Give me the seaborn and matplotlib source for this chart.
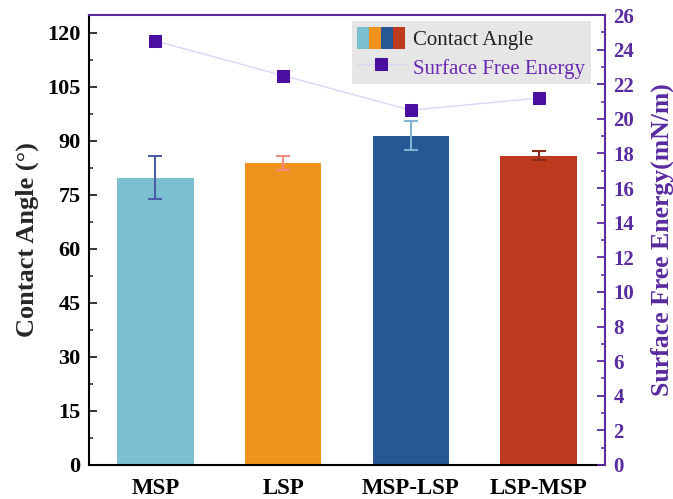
import numpy as np
import pandas as pd
import matplotlib
matplotlib.use("Agg")
import matplotlib.pyplot as plt
from matplotlib.patches import Rectangle
from matplotlib.legend_handler import HandlerTuple
from matplotlib.ticker import MultipleLocator
import seaborn as sns

# Data
samples = ["MSP", "LSP", "MSP-LSP", "LSP-MSP"]
contact_angle = [79.8, 83.8, 91.5, 85.9]
contact_angle_err = [6.0, 1.9, 4.0, 1.2]
surface_energy = [24.5, 22.5, 20.5, 21.2]

bar_colors = ["#7bbfd0", "#f0931e", "#275893", "#be3a1f"]
err_colors = ["#4a5ea8", "#f58a80", "#7fb4d4", "#8a2a18"]
purple = "#4b0fa0"
axis_purple = "#5a2aa0"

sns.set_theme(style="white")
plt.rcParams["font.family"] = ["Liberation Serif", "DejaVu Serif"]
plt.rcParams["font.weight"] = "bold"

df = pd.DataFrame({"sample": samples, "angle": contact_angle})

fig = plt.figure(figsize=(6.73, 4.99), dpi=100)
ax = fig.add_axes([89 / 673, 1 - 465 / 499, (605 - 89) / 673, (465 - 15) / 499])

sns.barplot(data=df, x="sample", y="angle", hue="sample", palette=bar_colors,
            width=0.6, legend=False, ax=ax, edgecolor="none", saturation=1)

for i, (v, e) in enumerate(zip(contact_angle, contact_angle_err)):
    ax.errorbar(i, v, yerr=e, color=err_colors[i], capsize=5, capthick=1.5,
                elinewidth=1.5, zorder=5)

ax.set_xlim(-0.52, 3.52)
ax.set_ylim(0, 125)
ax.yaxis.set_major_locator(MultipleLocator(15))
ax.yaxis.set_minor_locator(MultipleLocator(7.5))
ax.set_xlabel("")
ax.set_ylabel("Contact Angle (°)", fontsize=19, fontweight="bold", labelpad=6)
ax.tick_params(axis="y", which="major", direction="in", length=6, width=1.3,
               labelsize=16, left=True, pad=6)
ax.tick_params(axis="y", which="minor", direction="in", length=3, width=1.1, left=True)
ax.tick_params(axis="x", length=0, labelsize=16.5, pad=9)
for lbl in ax.get_xticklabels() + ax.get_yticklabels():
    lbl.set_fontweight("bold")
    lbl.set_color("black")

for side in ["left", "bottom"]:
    ax.spines[side].set_color("black")
    ax.spines[side].set_linewidth(1.5)
ax.spines["top"].set_color(axis_purple)
ax.spines["top"].set_linewidth(1.5)
ax.spines["right"].set_visible(False)

# Surface free energy on secondary axis
ax2 = ax.twinx()
sfe_df = pd.DataFrame({"pos": np.arange(len(samples)), "sfe": surface_energy})
sns.lineplot(data=sfe_df, x="pos", y="sfe", ax=ax2, color="#d8d6f6", linewidth=1.0,
             marker="s", markersize=8, markerfacecolor=purple, markeredgecolor=purple,
             label="Surface Free Energy", legend=False)
ax2.set_ylim(0, 26)
ax2.yaxis.set_major_locator(MultipleLocator(2))
ax2.yaxis.set_minor_locator(MultipleLocator(1))
ax2.set_ylabel("Surface Free Energy(mN/m)", fontsize=18.5, fontweight="bold",
               color=axis_purple, labelpad=12)
ax2.tick_params(axis="y", which="major", direction="in", length=6, width=1.3,
                labelsize=15, colors=axis_purple, right=True, pad=6)
ax2.tick_params(axis="y", which="minor", direction="in", length=3, width=1.1,
                colors=axis_purple, right=True)
for lbl in ax2.get_yticklabels():
    lbl.set_fontweight("bold")
for side in ["left", "bottom", "top"]:
    ax2.spines[side].set_visible(False)
ax2.spines["right"].set_color(axis_purple)
ax2.spines["right"].set_linewidth(1.5)
ax2.set_xlim(-0.52, 3.52)

# Legend with a striped patch for the bars
bar_handle = tuple(Rectangle((0, 0), 1, 1, facecolor=c, edgecolor="none") for c in bar_colors)
line_handle = ax2.get_lines()[0]
leg = ax2.legend([bar_handle, line_handle], ["Contact Angle", "Surface Free Energy"],
                 handler_map={tuple: HandlerTuple(ndivide=None, pad=0)},
                 loc="upper right", bbox_to_anchor=(0.98, 0.995), frameon=True,
                 fancybox=False, facecolor="#e6e6e6", edgecolor="none", framealpha=1,
                 fontsize=15, handlelength=2.3, handleheight=1.3, borderpad=0.25,
                 labelspacing=0.25, handletextpad=0.4, borderaxespad=0.2)
texts = leg.get_texts()
texts[0].set_color("#222222")
texts[1].set_color("#6a2ab0")
for t in texts:
    t.set_fontweight("normal")

fig.savefig("out.png", dpi=100)
